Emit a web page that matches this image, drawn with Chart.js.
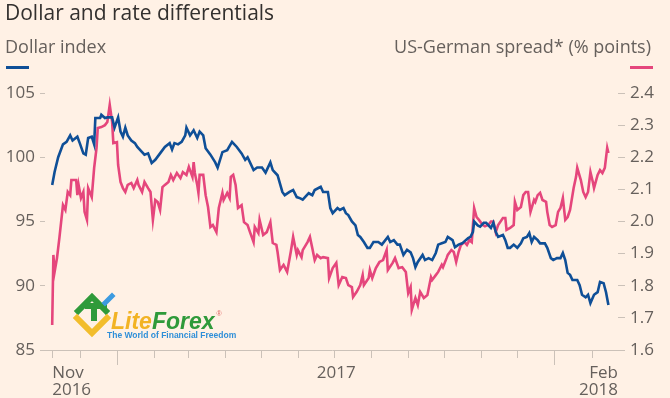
<!DOCTYPE html>
<html>
<head>
<meta charset="utf-8">
<script src="https://cdn.jsdelivr.net/npm/chart.js@4.4.1/dist/chart.umd.min.js"></script>
<style>
  html, body { margin: 0; padding: 0; background: #fff1e5; }
  #wrap { position: relative; width: 670px; height: 398px; overflow: hidden; font-family: "Open Sans", sans-serif; }
  #chart { position: absolute; left: 0; top: 0; }
  .title { position: absolute; left: 5px; top: -2px; font-size: 21px; color: #33302e; white-space: nowrap; }
  .sub { position: absolute; top: 34px; font-size: 18px; color: #66605c; white-space: nowrap; }
  .key { position: absolute; top: 66px; height: 3px; width: 23px; }
</style>
</head>
<body>
<div id="wrap">
  <canvas id="chart" width="670" height="398"></canvas>
  <div class="title">Dollar and rate differentials</div>
  <div class="sub" style="left:5px">Dollar index</div>
  <div class="key" style="left:6px;background:#0f4f97"></div>
  <div class="sub" style="right:19px">US-German spread* (% points)</div>
  <div class="key" style="left:630px;background:#e5467c"></div>
</div>
<script>
// Days counted from 8 Nov 2016 (first point on the chart)
const dollarDays = [0, 2, 5, 9, 12, 15, 17, 21, 23, 26, 28, 30, 33, 35, 36, 40, 41, 44, 46, 50,
  52, 55, 57, 59, 61, 63, 66, 69, 71, 75, 77, 80, 83, 86, 90, 94, 98, 100, 102, 105,
  108, 111, 112, 115, 118, 121, 123, 126, 128, 132, 136, 138, 142, 146, 150, 154, 158, 161, 163, 168,
  171, 175, 178, 182, 184, 188, 192, 194, 198, 201, 204, 207, 209, 214, 217, 219, 224, 226, 230, 232,
  234, 238, 240, 243, 245, 247, 250, 253, 255, 257, 260, 263, 265, 268, 272, 275, 280, 282, 285, 288,
  290, 293, 296, 299, 301, 303, 305, 309, 311, 314, 317, 320, 322, 325, 328, 330, 334, 336, 339, 342,
  345, 347, 349, 351, 352, 355, 357, 360, 362, 366, 368, 370, 372, 376, 378, 380, 382, 385, 388, 391,
  393, 396, 398, 400, 402, 405, 407, 411, 413, 416, 418, 421, 424, 426, 428, 430, 432, 434, 438, 440,
  442, 445, 447, 449, 452, 455, 457, 460, 462, 464];
const dollarIndex = [97.84, 98.85, 100.0, 101.0, 101.2, 101.7, 101.3, 101.6, 101.1, 100.3, 100.2, 101.5, 101.6, 101.0, 103.05, 103.05, 103.3, 103.05, 103.1, 103.1,
  102.3, 103.1, 102.0, 101.6, 102.3, 101.7, 101.3, 101.1, 100.8, 100.4, 100.2, 100.3, 99.55, 99.8, 100.3, 100.8, 101.1, 100.6, 101.1, 101.0,
  101.2, 101.7, 102.3, 101.7, 102.1, 101.5, 102.0, 101.7, 100.7, 100.2, 99.6, 99.2, 100.4, 100.55, 101.2, 100.8, 100.3, 99.8, 100.0, 99.0,
  99.2, 99.2, 98.8, 99.6, 99.0, 98.6, 97.3, 97.05, 97.3, 97.45, 96.9, 96.8, 96.7, 97.2, 97.05, 97.45, 97.7, 97.3, 97.3, 96.05,
  95.65, 96.05, 95.9, 96.05, 95.65, 95.5, 95.0, 94.7, 93.95, 93.8, 93.4, 92.95, 92.95, 93.4, 93.4, 93.2, 93.8, 93.4, 93.55, 93.2,
  93.2, 92.4, 92.8, 92.6, 92.15, 91.45, 91.85, 92.4, 92.0, 92.15, 92.0, 92.55, 93.2, 93.3, 93.4, 93.8, 93.55, 93.0, 93.2, 93.3,
  93.55, 93.7, 93.8, 94.2, 95.0, 94.7, 94.6, 94.9, 94.9, 94.5, 94.9, 94.2, 93.8, 93.95, 93.55, 92.95, 92.95, 93.2, 92.95, 93.3,
  93.7, 93.8, 94.1, 93.4, 93.8, 93.55, 93.3, 93.3, 92.95, 92.15, 92.0, 92.15, 92.15, 92.55, 92.0, 91.0, 90.85, 90.45, 90.45, 90.05,
  89.3, 89.1, 89.3, 88.65, 89.3, 89.5, 90.3, 90.2, 89.5, 88.5];

const spreadDays = [0, 1, 2, 4, 6, 9, 11, 13, 15, 16, 20, 21, 22, 24, 26, 27, 29, 30, 33, 35,
  37, 38, 41, 44, 46, 48, 50, 51, 54, 55, 57, 59, 61, 63, 66, 68, 71, 72, 75, 77,
  80, 82, 84, 86, 88, 90, 92, 94, 97, 99, 101, 104, 107, 109, 112, 114, 117, 118, 119, 121,
  122, 123, 126, 128, 130, 132, 134, 137, 139, 142, 143, 146, 148, 149, 151, 153, 155, 158, 160, 163,
  165, 168, 169, 172, 173, 176, 179, 182, 184, 187, 188, 190, 193, 194, 196, 199, 201, 204, 205, 208,
  209, 213, 215, 217, 219, 221, 224, 226, 230, 231, 234, 237, 239, 242, 245, 247, 250, 251, 254, 257,
  259, 260, 264, 265, 267, 270, 273, 276, 279, 280, 284, 286, 289, 292, 295, 297, 299, 300, 303, 305,
  307, 310, 313, 316, 317, 320, 322, 325, 326, 329, 330, 333, 335, 337, 339, 341, 344, 346, 348, 350,
  352, 354, 356, 359, 361, 364, 366, 368, 370, 372, 376, 378, 379, 382, 385, 386, 388, 391, 393, 395,
  397, 399, 402, 403, 405, 407, 409, 412, 413, 415, 417, 420, 422, 424, 426, 428, 430, 432, 435, 437,
  438, 441, 443, 445, 447, 449, 451, 452, 455, 457, 459, 461, 463, 464];
const usGermanSpread = [1.678, 1.896, 1.843, 1.886, 1.949, 2.051, 2.036, 2.092, 2.082, 2.129, 2.129, 2.082, 2.114, 2.073, 2.092, 2.03, 2.005, 2.104, 2.076, 2.167,
  2.229, 2.291, 2.294, 2.30, 2.31, 2.363, 2.31, 2.244, 2.247, 2.176, 2.123, 2.104, 2.092, 2.114, 2.12, 2.104, 2.129, 2.114, 2.092, 2.123,
  2.104, 2.092, 2.005, 2.067, 2.061, 2.036, 2.107, 2.114, 2.123, 2.145, 2.129, 2.151, 2.135, 2.154, 2.145, 2.17, 2.139, 2.185, 2.151, 2.114,
  2.089, 2.145, 2.145, 2.082, 2.045, 1.983, 1.989, 1.967, 2.042, 2.089, 2.067, 2.089, 2.073, 2.139, 2.145, 2.114, 2.042, 2.051, 1.998, 1.989,
  1.967, 1.936, 1.983, 1.964, 2.005, 1.958, 1.967, 1.998, 1.933, 1.927, 1.905, 1.849, 1.865, 1.858, 1.843, 1.905, 1.952, 1.896, 1.911, 1.889,
  1.911, 1.936, 1.952, 1.917, 1.88, 1.896, 1.886, 1.889, 1.886, 1.824, 1.855, 1.871, 1.802, 1.827, 1.824, 1.802, 1.796, 1.765, 1.781, 1.802,
  1.833, 1.802, 1.824, 1.849, 1.824, 1.855, 1.874, 1.88, 1.911, 1.849, 1.871, 1.886, 1.855, 1.858, 1.843, 1.777, 1.796, 1.725, 1.762, 1.74,
  1.781, 1.762, 1.771, 1.827, 1.818, 1.833, 1.843, 1.865, 1.858, 1.886, 1.896, 1.911, 1.905, 1.874, 1.905, 1.927, 1.936, 1.927, 1.942, 1.936,
  2.042, 2.014, 2.005, 1.99, 1.985, 1.99, 2.0, 2.0, 1.967, 1.989, 2.011, 2.011, 1.974, 1.98, 1.989, 2.061, 2.036, 2.045, 2.082, 2.092,
  2.092, 2.03, 2.067, 2.061, 2.082, 2.089, 2.067, 2.061, 2.03, 1.989, 1.983, 1.989, 2.03, 2.042, 2.073, 2.005, 2.014, 2.036, 2.104, 2.139,
  2.167, 2.129, 2.092, 2.076, 2.092, 2.154, 2.123, 2.104, 2.145, 2.16, 2.151, 2.167, 2.229, 2.213];

const leftTicks = [85, 90, 95, 100, 105];
const rightTicks = [1.6, 1.7, 1.8, 1.9, 2.0, 2.1, 2.2, 2.3, 2.4];
// first day of each month, in days from 8 Nov 2016
const monthTickDays = [0, 23, 54, 85, 113, 144, 174, 205, 235, 266, 297, 327, 358, 388, 419, 450];
const yearTickDays = [54, 419];
const xLabelText = ["Nov\n2016", "2017", "Feb\n2018"];
const xLabelDays = [0, 237, 472];

const AXIS_GREY = "#cbc1b8";
const TEXT_GREY = "#66605c";

function toPoints(days, values) {
  return days.map((d, i) => ({ x: d, y: values[i] }));
}

const ftAxisPlugin = {
  id: "ftAxis",
  afterDraw(chart) {
    const ctx = chart.ctx;
    const xs = chart.scales.x;
    const bottom = chart.chartArea.bottom;
    ctx.save();
    ctx.strokeStyle = AXIS_GREY;
    ctx.lineWidth = 1;
    ctx.beginPath();
    ctx.moveTo(40, bottom + 0.5);
    ctx.lineTo(625, bottom + 0.5);
    monthTickDays.forEach((d) => {
      const px = Math.round(xs.getPixelForValue(d)) + 0.5;
      const len = yearTickDays.includes(d) ? 15 : 8;
      ctx.moveTo(px, bottom);
      ctx.lineTo(px, bottom + len);
    });
    ctx.stroke();

    ctx.fillStyle = TEXT_GREY;
    ctx.font = '17px "Open Sans"';
    ctx.textBaseline = "alphabetic";
    xLabelText.forEach((txt, i) => {
      const lines = txt.split("\n");
      let px = xs.getPixelForValue(xLabelDays[i]);
      if (i === 0) ctx.textAlign = "left";
      else if (i === xLabelText.length - 1) ctx.textAlign = "right";
      else ctx.textAlign = "center";
      lines.forEach((ln, j) => {
        const y = bottom + 28 + j * 17;
        ctx.fillText(ln, px, y);
      });
    });
    ctx.restore();

    drawLogo(ctx);
  },
};

function drawLogo(ctx) {
  ctx.save();
  ctx.lineCap = "square";
  ctx.lineJoin = "miter";
  // green upper chevron
  ctx.strokeStyle = "#2f9a3a";
  ctx.lineWidth = 6;
  ctx.beginPath();
  ctx.moveTo(78, 311);
  ctx.lineTo(92, 297);
  ctx.lineTo(106, 311);
  ctx.moveTo(88, 306);
  ctx.lineTo(104, 306);
  ctx.moveTo(94, 306);
  ctx.lineTo(94, 318);
  ctx.stroke();
  // yellow lower chevron
  ctx.strokeStyle = "#f2bd2c";
  ctx.beginPath();
  ctx.moveTo(77, 318);
  ctx.lineTo(92, 333);
  ctx.lineTo(107, 318);
  ctx.stroke();
  // blue stroke
  ctx.strokeStyle = "#3d9be0";
  ctx.lineWidth = 5;
  ctx.beginPath();
  ctx.moveTo(105, 303);
  ctx.lineTo(112, 296);
  ctx.stroke();

  ctx.textAlign = "left";
  ctx.textBaseline = "alphabetic";
  ctx.font = 'italic bold 23px "Liberation Sans"';
  ctx.fillStyle = "#f2b324";
  ctx.fillText("Lite", 111, 329);
  const w = ctx.measureText("Lite").width;
  ctx.fillStyle = "#2f9a3a";
  ctx.fillText("Forex", 111 + w, 329);
  const w2 = ctx.measureText("Forex").width;
  ctx.font = '7px "Liberation Sans"';
  ctx.fillStyle = "#e06666";
  ctx.fillText("\u00ae", 113 + w + w2, 316);
  ctx.font = 'bold 8.5px "Liberation Sans"';
  ctx.fillStyle = "#2f8fd8";
  ctx.fillText("The World of Financial Freedom", 107, 338);
  ctx.restore();
}

new Chart(document.getElementById("chart"), {
  type: "line",
  data: {
    datasets: [
      {
        label: "Dollar index",
        data: toPoints(dollarDays, dollarIndex),
        yAxisID: "y",
        borderColor: "#0f4f97",
        borderWidth: 2.6,
        pointRadius: 0,
        tension: 0,
      },
      {
        label: "US-German spread* (% points)",
        data: toPoints(spreadDays, usGermanSpread),
        yAxisID: "y1",
        borderColor: "#e5467c",
        borderWidth: 2.6,
        pointRadius: 0,
        tension: 0,
      },
    ],
  },
  plugins: [ftAxisPlugin],
  options: {
    responsive: false,
    animation: false,
    events: [],
    layout: { padding: { top: 93, left: 0, right: 0, bottom: 0 } },
    plugins: { legend: { display: false }, tooltip: { enabled: false } },
    scales: {
      x: {
        type: "linear",
        min: -6,
        max: 472,
        ticks: { display: false },
        grid: { display: false },
        border: { display: false },
        afterFit(scale) { scale.height = 48; },
      },
      y: {
        position: "left",
        min: 85,
        max: 105,
        afterBuildTicks(axis) { axis.ticks = leftTicks.map((v) => ({ value: v })); },
        ticks: { color: TEXT_GREY, font: { family: "Open Sans", size: 17 }, padding: 5 },
        grid: { drawOnChartArea: false, tickLength: 5, color: AXIS_GREY },
        border: { display: false },
        afterFit(scale) { scale.width = 45; },
      },
      y1: {
        position: "right",
        min: 1.6,
        max: 2.4,
        afterBuildTicks(axis) { axis.ticks = rightTicks.map((v) => ({ value: v })); },
        ticks: {
          color: TEXT_GREY,
          font: { family: "Open Sans", size: 17 },
          padding: 5,
          callback: (v) => v.toFixed(1),
        },
        grid: { drawOnChartArea: false, tickLength: 7, color: AXIS_GREY },
        border: { display: false },
        afterFit(scale) { scale.width = 52; },
      },
    },
  },
});
</script>
</body>
</html>
